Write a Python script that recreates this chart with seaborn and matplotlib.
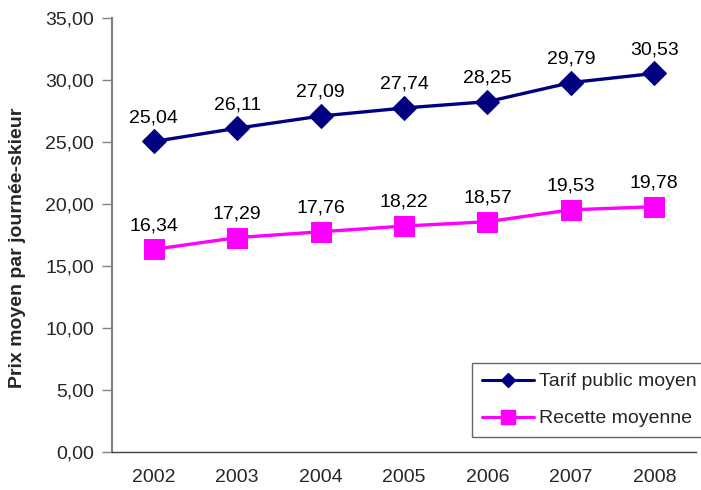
import pandas as pd
import matplotlib
matplotlib.use("Agg")
import matplotlib.pyplot as plt
from matplotlib.lines import Line2D
import seaborn as sns

years = ["2002", "2003", "2004", "2005", "2006", "2007", "2008"]
tarif_public = [25.04, 26.11, 27.09, 27.74, 28.25, 29.79, 30.53]
recette = [16.34, 17.29, 17.76, 18.22, 18.57, 19.53, 19.78]
series_names = ["Tarif public moyen", "Recette moyenne"]

sns.set_style("white")
plt.rcParams["font.family"] = ["Liberation Sans", "DejaVu Sans"]


def fmt(v):
    return f"{v:.2f}".replace(".", ",")


df = pd.DataFrame(
    {
        "pos": list(range(len(years))) * 2,
        "value": tarif_public + recette,
        "serie": [series_names[0]] * len(years) + [series_names[1]] * len(years),
    }
)

fig = plt.figure(figsize=(7.01, 4.9), dpi=100)
ax = fig.add_axes([0.1598, 0.0776, 0.8331, 0.8857])

styles = {
    series_names[0]: dict(color="#000080", marker="D", markersize=12, legsize=7),
    series_names[1]: dict(color="#FF00FF", marker="s", markersize=14, legsize=10),
}

handles = []
for name in series_names:
    sub = df[df["serie"] == name]
    st = styles[name]
    sns.lineplot(
        data=sub, x="pos", y="value", ax=ax, color=st["color"],
        marker=st["marker"], markersize=st["markersize"],
        markeredgecolor=st["color"], linewidth=2.4, legend=False,
    )
    for x, y in zip(sub["pos"], sub["value"]):
        ax.annotate(fmt(y), (x, y), xytext=(0, 17), textcoords="offset points",
                    ha="center", va="center", fontsize=14, color="black")
    handles.append(Line2D([], [], color=st["color"], marker=st["marker"],
                          markersize=st["legsize"], linewidth=2.2, label=name))

ax.set_xlim(-0.5, len(years) - 0.5)
ax.set_ylim(0, 35)
ax.set_yticks(range(0, 36, 5))
ax.set_yticklabels([fmt(v) for v in range(0, 36, 5)], fontsize=14)
ax.set_xticks(range(len(years)))
ax.set_xticklabels(years, fontsize=14)
ax.set_xticks([i - 0.5 for i in range(len(years) + 1)], minor=True)
ax.tick_params(axis="x", which="major", length=0, pad=12)
ax.tick_params(axis="x", which="minor", length=7, width=1, color="#404040", direction="out")
ax.tick_params(axis="y", length=7, width=1, color="#808080", direction="out", left=True, pad=6)

ax.set_xlabel("")
ax.set_ylabel("Prix moyen par journée-skieur", fontsize=14, fontweight="bold")
ax.yaxis.set_label_coords(-0.147, 0.47)

for s in ["top", "right"]:
    ax.spines[s].set_visible(False)
ax.spines["left"].set_color("#808080")
ax.spines["left"].set_linewidth(1.5)
ax.spines["bottom"].set_color("#404040")
ax.spines["bottom"].set_linewidth(1)

leg = ax.legend(
    handles=handles,
    loc="upper left", bbox_to_anchor=(472 / 701, 1 - 363 / 490),
    bbox_transform=fig.transFigure, frameon=True, fancybox=False,
    fontsize=14, handlelength=2.7, borderpad=0.5, labelspacing=1.0,
    handletextpad=0.25, borderaxespad=0,
)
leg.get_frame().set_edgecolor("#404040")
leg.get_frame().set_linewidth(1)

fig.savefig("out.png", dpi=100)
